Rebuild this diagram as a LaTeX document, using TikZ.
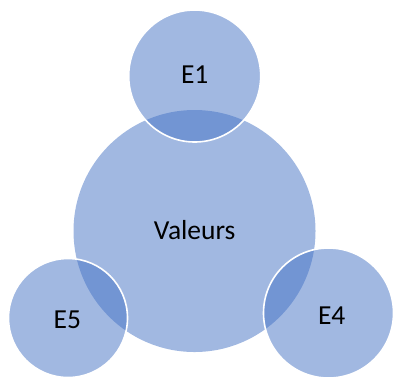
\documentclass[tikz,border=0pt]{standalone}
\usepackage{fontspec}
\setmainfont{Carlito}
\definecolor{accent}{HTML}{4472C4}
\begin{document}
\begin{tikzpicture}[x=1pt,y=-1pt,
  bigc/.style={circle,inner sep=0pt,fill=accent,fill opacity=0.5,draw=none},
  smallc/.style={circle,inner sep=0pt,fill=accent,fill opacity=0.5,draw=white,draw opacity=1,line width=1.6pt},
  lbl/.style={anchor=base,inner sep=0pt,font=\fontsize{27.5}{30}\selectfont,text=black}]
\useasboundingbox (0,0) rectangle (395,376);
\node[bigc,minimum size=242pt] (val) at (194.5,231) {};
\node[smallc,minimum size=132pt] (e1) at (194.7,76) {};
\node[smallc,minimum size=119pt] (e5) at (68,318) {};
\node[smallc,minimum size=130pt] (e4) at (328.5,313) {};
\node[lbl] (tval) at (194.7,239) {Valeurs};
\node[lbl] (te1) at (194.7,83.3) {E1};
\node[lbl] (te5) at (67.3,328.3) {E5};
\node[lbl] (te4) at (331.7,324) {E4};
\end{tikzpicture}
\end{document}
